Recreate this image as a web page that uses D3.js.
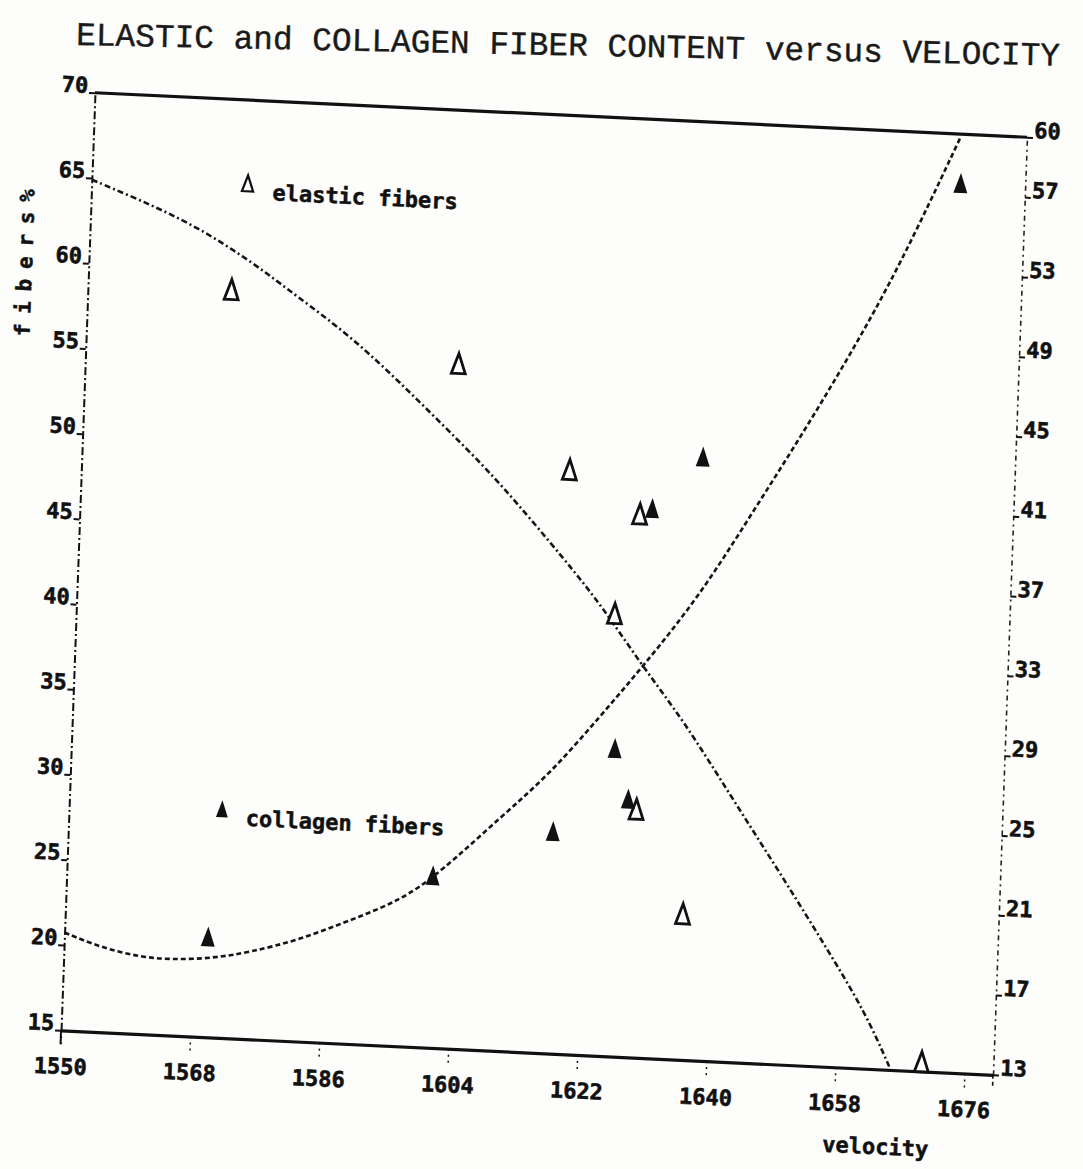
<!DOCTYPE html>
<html>
<head>
<meta http-equiv="Content-Type" content="text/html; charset=UTF-8" />
<title>Elastic and collagen fiber content versus velocity</title>
<script src="https://cdn.jsdelivr.net/npm/d3@7"></script>
<style>
 body { margin: 0; background: #fdfdfc; }
 svg { display: block; }
 .lbl { font-family: "DejaVu Sans Mono", monospace; font-weight: bold; fill: #111; stroke: #111; stroke-width: 0.5px; }
 .fit { fill: none; stroke: #151515; stroke-width: 2.6px; }
</style>
</head>
<body>
<script>
var width = 1083, height = 1169;
var W = 933, H = 938;

// axis ticks
var velTicks = [1550, 1568, 1586, 1604, 1622, 1640, 1658, 1676];
var leftTicks = [15, 20, 25, 30, 35, 40, 45, 50, 55, 60, 65, 70];
var rightTicks = [13, 17, 21, 25, 29, 33, 37, 41, 45, 49, 53, 57, 60];

// measured points, elastic on the left scale, collagen on the right scale
var elasticVel = [1570, 1602, 1618, 1628, 1625, 1629, 1636, 1670];
var elasticPct = [58.8, 55.1, 49.2, 46.8, 40.9, 29.5, 23.5, 15.5];
var collagenVel = [1570, 1601, 1617.5, 1625.7, 1627.8, 1629.7, 1636.5, 1671];
var collagenPct = [18.0, 21.6, 24.1, 28.4, 25.9, 40.5, 43.2, 57.5];

// fitted curves
var elasticFitVel = [1550, 1555.8, 1560.6, 1565.3, 1570, 1574.9, 1578.6, 1586.7, 1593.9, 1601.2,
                     1608.4, 1618.1, 1622.9, 1629.2, 1635.1, 1642.4, 1650.5, 1656.1, 1661.9, 1665.5];
var elasticFit = [64.9, 64.0, 63.2, 62.3, 61.2, 59.9, 58.8, 56.5, 53.9, 51.1,
                  48.3, 43.8, 41.5, 37.9, 34.9, 30.4, 25.5, 22.0, 18.3, 15.2];
var collagenFitVel = [1550, 1555, 1560.6, 1565.2, 1570.8, 1575.9, 1582.8, 1589.7, 1596.6, 1602,
                      1610.1, 1616.8, 1623.5, 1629.2, 1636.8, 1643.4, 1649.9, 1656.5, 1663, 1670.7];
var collagenFit = [17.9, 17.25, 16.85, 16.8, 16.97, 17.36, 18.1, 19.2, 20.3, 21.8,
                   24.7, 27.0, 30.0, 32.6, 36.3, 40.4, 44.4, 48.7, 53.3, 59.8];

var x = d3.scaleLinear().domain([1550, 1680]).range([0, W]);
var yL = d3.scaleLinear().domain([15, 70]).range([H, 0]);
var yR = d3.scaleLinear().domain([13, 60]).range([H, 0]);

var svg = d3.select('body').append('svg')
    .attr('width', width)
    .attr('height', height);

// title, typed slightly askew
svg.append('text')
    .attr('x', 76).attr('y', 45)
    .attr('transform', 'rotate(1.2,76,45)')
    .attr('font-family', '"Liberation Mono", "Courier New", monospace')
    .attr('font-size', 33)
    .attr('fill', '#1a1a1a')
    .attr('stroke', '#1a1a1a')
    .attr('stroke-width', 0.4)
    .attr('textLength', 984)
    .attr('lengthAdjust', 'spacingAndGlyphs')
    .text('ELASTIC and COLLAGEN FIBER CONTENT versus VELOCITY');

// the scanned plot is a bit rotated and sheared
var g = svg.append('g')
    .attr('transform', 'matrix(0.9989,0.0477,-0.0362,0.9995,95,92.75)');

g.append('clipPath').attr('id', 'plotclip')
  .append('rect').attr('x', 0).attr('y', 0).attr('width', W).attr('height', H);

function styleAxis(sel) {
    sel.attr('font-family', '"DejaVu Sans Mono", monospace')
       .attr('font-size', 22)
       .attr('font-weight', 'bold');
    sel.selectAll('text').attr('fill', '#111').attr('stroke', '#111').attr('stroke-width', 0.6);
    sel.selectAll('.tick line').attr('stroke', '#111').attr('stroke-width', 2);
}

var left = g.append('g').call(d3.axisLeft(yL).tickValues(leftTicks).tickSize(6).tickSizeOuter(0).tickPadding(1));
styleAxis(left);
left.selectAll('text').attr('dy', 0);
left.select('.domain').attr('stroke', '#111').attr('stroke-width', 2).attr('stroke-dasharray', '8,3,2,3');

var right = g.append('g').attr('transform', 'translate(' + W + ',0)')
    .call(d3.axisRight(yR).tickValues(rightTicks).tickSize(6).tickSizeOuter(0).tickPadding(1));
styleAxis(right);
right.selectAll('text').attr('dy', 0);
right.select('.domain').attr('stroke', '#222').attr('stroke-width', 1.6).attr('stroke-dasharray', '5,4,2,4');

var bottom = g.append('g').attr('transform', 'translate(0,' + H + ')')
    .call(d3.axisBottom(x).tickValues(velTicks).tickFormat(d3.format('d')).tickSize(14).tickSizeOuter(0).tickPadding(14));
styleAxis(bottom);
bottom.selectAll('.tick line').attr('stroke-width', 1.5).attr('stroke-dasharray', '2,4');
bottom.select('.domain').attr('stroke', '#111').attr('stroke-width', 3.2);

// top frame line and axis stubs below the frame
g.append('line').attr('x1', 0).attr('x2', W).attr('y1', 0).attr('y2', 0)
    .attr('stroke', '#111').attr('stroke-width', 3.2);
g.append('line').attr('x1', 0).attr('x2', 0).attr('y1', H).attr('y2', H + 14)
    .attr('stroke', '#111').attr('stroke-width', 2);
g.append('line').attr('x1', W).attr('x2', W).attr('y1', H).attr('y2', H + 14)
    .attr('stroke', '#111').attr('stroke-width', 1.6).attr('stroke-dasharray', '4,3');

// fitted curves
var lineL = d3.line().x((d, i) => x(elasticFitVel[i])).y(d => yL(d)).curve(d3.curveBasis);
var lineR = d3.line().x((d, i) => x(collagenFitVel[i])).y(d => yR(d)).curve(d3.curveBasis);

g.append('path').attr('class', 'fit').attr('clip-path', 'url(#plotclip)')
    .attr('stroke-dasharray', '6,3,2,3')
    .attr('d', lineL(elasticFit));
g.append('path').attr('class', 'fit').attr('clip-path', 'url(#plotclip)')
    .attr('stroke-dasharray', '5,3')
    .attr('d', lineR(collagenFit));

// tall typewriter style triangles
var tri = 'M0,-11L7,9L-7,9Z';

g.selectAll('.elastic')
    .data(elasticPct)
    .enter()
    .append('path')
    .attr('class', 'elastic')
    .attr('d', tri)
    .attr('transform', (d, i) => 'translate(' + x(elasticVel[i]) + ',' + yL(d) + ')')
    .attr('fill', '#fff')
    .attr('stroke', '#111')
    .attr('stroke-width', 2.8);

g.selectAll('.collagen')
    .data(collagenPct)
    .enter()
    .append('path')
    .attr('class', 'collagen')
    .attr('d', tri)
    .attr('transform', (d, i) => 'translate(' + x(collagenVel[i]) + ',' + yR(d) + ')')
    .attr('fill', '#111');

// legend
g.append('path').attr('d', tri).attr('transform', 'translate(156,84) scale(0.8)')
    .attr('fill', '#fff').attr('stroke', '#111').attr('stroke-width', 2.8);
g.append('text').attr('class', 'lbl').attr('x', 181).attr('y', 99)
    .attr('font-size', 22).text('elastic fibers');
g.append('path').attr('d', tri).attr('transform', 'translate(153,710) scale(0.85)')
    .attr('fill', '#111');
g.append('text').attr('class', 'lbl').attr('x', 177).attr('y', 725)
    .attr('font-size', 22).text('collagen fibers');

// axis titles
g.append('text').attr('class', 'lbl')
    .attr('x', 765).attr('y', H + 85)
    .attr('font-size', 22)
    .text('velocity');
g.append('text').attr('class', 'lbl')
    .attr('transform', 'translate(-64,173) rotate(-90)')
    .attr('text-anchor', 'middle')
    .attr('dy', '0.35em')
    .attr('font-size', 21)
    .attr('textLength', 147)
    .attr('lengthAdjust', 'spacing')
    .text('fibers%');
</script>
</body>
</html>
